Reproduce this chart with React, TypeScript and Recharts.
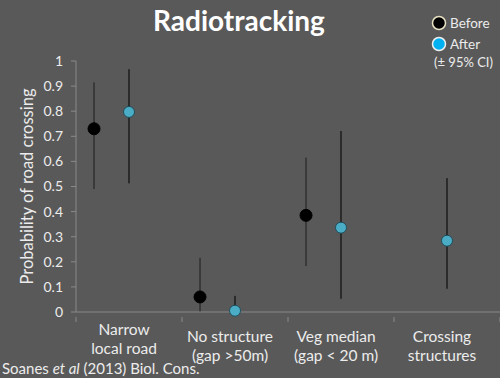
import React from 'react';
import { ComposedChart, Scatter, ErrorBar, XAxis, YAxis } from 'recharts';

const categories = ['Narrow|local road', 'No structure|(gap >50m)', 'Veg median|(gap < 20 m)', 'Crossing|structures'];
const beforeMean = [0.73, 0.06, 0.385, null];
const beforeLow = [0.49, 0, 0.183, null];
const beforeHigh = [0.915, 0.216, 0.615, null];
const afterMean = [0.797, 0.005, 0.336, 0.284];
const afterLow = [0.513, 0, 0.053, 0.093];
const afterHigh = [0.967, 0.064, 0.721, 0.533];
const yTicks = [0, 0.1, 0.2, 0.3, 0.4, 0.5, 0.6, 0.7, 0.8, 0.9, 1];

const FONT = 'Lato, "Open Sans", sans-serif';
const TXT = '#ececec';
const AXIS = '#8a8a8a';

function rows(mean: (number | null)[], low: (number | null)[], high: (number | null)[], offset: number) {
  return mean
    .map((m, i) => (m == null ? null : { x: i + offset, y: m, err: [m - (low[i] as number), (high[i] as number) - m] }))
    .filter(Boolean) as { x: number; y: number; err: number[] }[];
}

const beforeRows = rows(beforeMean, beforeLow, beforeHigh, 0.17);
const afterRows = rows(afterMean, afterLow, afterHigh, 0.5);

const xTicks = [0, 0.5, 1, 1.5, 2, 2.5, 3, 3.5, 4];

function CatTick(props: any) {
  const { x, y, payload } = props;
  const v = payload.value as number;
  if (Number.isInteger(v)) {
    return <line x1={x} x2={x} y1={y - 3} y2={y + 2} stroke={AXIS} />;
  }
  const idx = Math.floor(v);
  const [l1, l2] = categories[idx].split('|');
  const top = idx === 0 ? 15 : 22;
  return (
    <text x={x - 5} y={y + top} textAnchor="middle" fill={TXT} fontSize={15.5} fontFamily={FONT}>
      <tspan x={x - 5} dy={0}>{l1}</tspan>
      <tspan x={x - 5} dy={19}>{l2}</tspan>
    </text>
  );
}

const dot = (fill: string, stroke: string, r: number) => (p: any) =>
  <circle cx={p.cx} cy={p.cy} r={r} fill={fill} stroke={stroke} strokeWidth={1} />;

// the CI line shows through the blue markers in the original, so draw it again on top
const noDot = () => <g />;

export default function App() {
  return (
    <div style={{ position: 'absolute', left: 0, top: 0, width: 500, height: 378, background: '#595959', overflow: 'hidden', fontFamily: FONT }}>
      <ComposedChart width={500} height={378} margin={{ top: 61, right: 0, bottom: 0, left: 0 }}>
        <XAxis
          dataKey="x"
          type="number"
          domain={[0, 4]}
          ticks={xTicks}
          interval={0}
          height={66}
          stroke={AXIS}
          tickLine={false}
          tick={<CatTick />}
        />
        <YAxis
          type="number"
          domain={[0, 1]}
          ticks={yTicks}
          width={76}
          stroke={AXIS}
          tickSize={5}
          tickMargin={8}
          tick={{ fill: TXT, fontSize: 14, fontFamily: FONT }}
          label={{ value: 'Probability of road crossing', angle: -90, position: 'insideLeft', offset: 27, style: { fill: TXT, fontSize: 16.5, fontFamily: FONT, textAnchor: 'middle' } }}
        />
        <Scatter data={beforeRows} dataKey="y" isAnimationActive={false} shape={dot('#000000', '#000000', 6)}>
          <ErrorBar dataKey="err" direction="y" width={0} stroke="#1c1c1c" strokeWidth={1} />
        </Scatter>
        <Scatter data={afterRows} dataKey="y" isAnimationActive={false} shape={dot('#4bacc6', '#1f4e5a', 5.5)}>
          <ErrorBar dataKey="err" direction="y" width={0} stroke="#1c1c1c" strokeWidth={1} />
        </Scatter>
        <Scatter data={afterRows} dataKey="y" isAnimationActive={false} shape={noDot} legendType="none">
          <ErrorBar dataKey="err" direction="y" width={0} stroke="#1c1c1c" strokeWidth={1} />
        </Scatter>
      </ComposedChart>
      <div style={{ position: 'absolute', left: 153, top: 2, fontSize: 28, fontWeight: 700, color: '#ffffff', lineHeight: '36px' }}>
        Radiotracking
      </div>
      <svg style={{ position: 'absolute', left: 430, top: 12 }} width={70} height={62}>
        <circle cx={9} cy={11} r={6.5} fill="#000" stroke="#e8e2c2" strokeWidth={1.5} />
        <circle cx={9} cy={32} r={6.5} fill="#00b0f0" stroke="#f0f0f0" strokeWidth={1.5} />
        <text x={20} y={16} fill={TXT} fontSize={13.5} fontFamily={FONT}>Before</text>
        <text x={20} y={37} fill={TXT} fontSize={13.5} fontFamily={FONT}>After</text>
        <text x={4} y={55} fill={TXT} fontSize={13} fontFamily={FONT}>(± 95% CI)</text>
      </svg>
      <div style={{ position: 'absolute', left: 2, top: 359, fontSize: 15, color: TXT, whiteSpace: 'nowrap', lineHeight: '19px' }}>
        Soanes <i>et al</i> (2013) Biol. Cons.
      </div>
    </div>
  );
}
